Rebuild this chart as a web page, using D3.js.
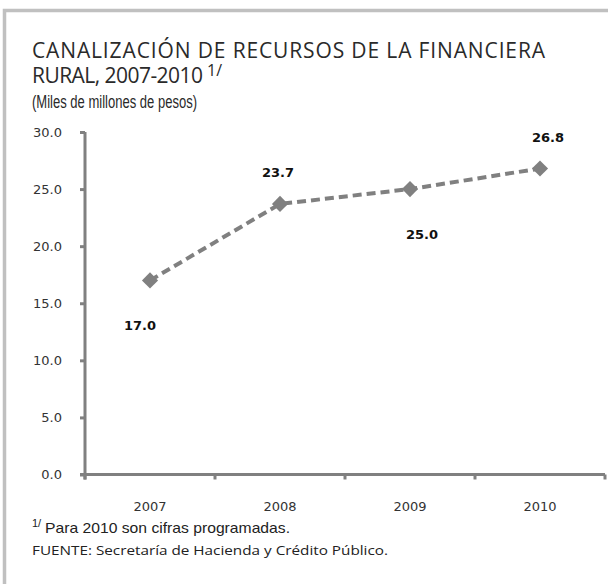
<!DOCTYPE html>
<html lang="es">
<head>
    <meta charset="UTF-8"/>
    <title>Financiera Rural</title>
    <script src="https://d3js.org/d3.v7.min.js"></script>
    <style>
        body { margin: 0; background: #fff; }
        .axis path, .axis line { stroke: #808080; stroke-width: 3; }
        .axis text { font: 13px "DejaVu Sans"; fill: #333; }
    </style>
</head>
<body></body>
<script type="text/javascript">
    let years = ["2007", "2008", "2009", "2010"];
    let values = [17.0, 23.7, 25.0, 26.8];
    let yTicks = [0, 5, 10, 15, 20, 25, 30];
    let labelSide = ["below", "above", "below", "above"];

    let width = 608, height = 584;
    let plotLeft = 85, plotRight = 605, plotTop = 132, plotBottom = 474.5;

    let svg = d3.select("body").append("svg")
        .attr("width", width)
        .attr("height", height);

    // marco gris
    svg.append("path")
        .attr("d", "M4.5,584 V10.5 H608")
        .attr("fill", "none")
        .attr("stroke", "#c0c0c0")
        .attr("stroke-width", 3.5);

    let title = svg.append("g")
        .style("font-family", "'Open Sans'")
        .style("fill", "#2a2a2a");
    title.append("text").attr("x", 32).attr("y", 58).style("font-size", "21px")
        .attr("textLength", 513).attr("lengthAdjust", "spacing")
        .text("CANALIZACIÓN DE RECURSOS DE LA FINANCIERA");
    title.append("text").attr("x", 32).attr("y", 83).style("font-size", "21px")
        .attr("textLength", 171).attr("lengthAdjust", "spacing")
        .text("RURAL, 2007-2010");
    title.append("text").attr("x", 207).attr("y", 76).style("font-size", "16px")
        .text("1/");
    title.append("text").attr("x", 32).attr("y", 108)
        .style("font-family", "'Liberation Sans'").style("font-size", "18px")
        .attr("textLength", 165).attr("lengthAdjust", "spacingAndGlyphs")
        .text("(Miles  de millones de pesos)");

    let x = d3.scaleBand().domain(years).range([plotLeft, plotRight]);
    let y = d3.scaleLinear().domain([0, 30]).range([plotBottom, plotTop]);

    svg.append("g")
        .attr("class", "axis")
        .attr("transform", "translate(" + plotLeft + ",0)")
        .call(d3.axisLeft(y).tickValues(yTicks).tickSize(5).tickPadding(18).tickFormat(d3.format(".1f")))
        .call(g => g.select(".domain").attr("d", "M0," + (plotBottom + 5) + "V" + plotTop));

    let xg = svg.append("g")
        .attr("class", "axis")
        .attr("transform", "translate(0," + plotBottom + ")")
        .call(d3.axisBottom(x).tickSize(0).tickPadding(27))
        .call(g => g.select(".domain").attr("d", "M" + (plotLeft - 5) + ",0H" + plotRight));
    // marcas entre categorías
    xg.selectAll(".sep")
        .data(years.concat(["end"]))
        .enter().append("line")
        .attr("class", "sep")
        .attr("x1", (d, i) => plotLeft + i * x.step())
        .attr("x2", (d, i) => plotLeft + i * x.step())
        .attr("y1", 0).attr("y2", 5);

    let cx = d => x(d) + x.bandwidth() / 2;

    let line = d3.line()
        .x((d, i) => cx(years[i]))
        .y(d => y(d));

    svg.append("path")
        .attr("d", line(values))
        .attr("fill", "none")
        .attr("stroke", "#808080")
        .attr("stroke-width", 4)
        .attr("stroke-dasharray", "9,5");

    svg.selectAll(".dot")
        .data(values)
        .enter().append("path")
        .attr("class", "dot")
        .attr("d", d3.symbol(d3.symbolSquare, 130))
        .attr("transform", (d, i) => "translate(" + cx(years[i]) + "," + y(d) + ") rotate(45)")
        .attr("fill", "#808080");

    let dx = [-10, -2, 12, 8];
    svg.selectAll(".lbl")
        .data(values)
        .enter().append("text")
        .attr("class", "lbl")
        .attr("x", (d, i) => cx(years[i]) + dx[i])
        .attr("y", (d, i) => y(d) + (labelSide[i] === "above" ? -27 : 50))
        .attr("text-anchor", "middle")
        .style("font", "bold 13px 'DejaVu Sans'")
        .style("fill", "#111")
        .text(d => d.toFixed(1));

    let foot = svg.append("g")
        .style("font-family", "'Liberation Sans'")
        .style("font-size", "15px")
        .style("fill", "#222");
    foot.append("text").attr("x", 32).attr("y", 527)
        .style("font-size", "11px").text("1/");
    foot.append("text").attr("x", 45).attr("y", 533)
        .attr("textLength", 245).attr("lengthAdjust", "spacingAndGlyphs")
        .text("Para 2010 son cifras programadas.");
    foot.append("text").attr("x", 32).attr("y", 555)
        .style("font-family", "'Open Sans'").style("font-size", "13.5px")
        .attr("textLength", 356).attr("lengthAdjust", "spacingAndGlyphs")
        .text("FUENTE: Secretaría de Hacienda y Crédito Público.");
</script>
</html>
